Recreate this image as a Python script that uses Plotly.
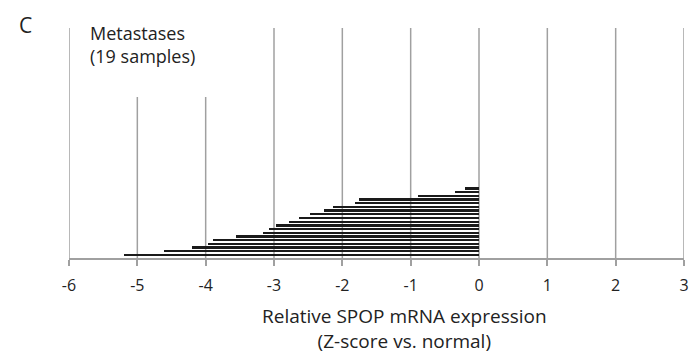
import plotly.graph_objects as go

# Data (bottom to top)
values = [-5.19, -4.61, -4.20, -3.97, -3.89, -3.55, -3.16, -3.07, -2.97, -2.78,
          -2.63, -2.48, -2.27, -2.14, -1.82, -1.75, -0.89, -0.35, -0.20]
samples = list(range(len(values)))
tick_vals = [-6, -5, -4, -3, -2, -1, 0, 1, 2, 3]
tick_text = [str(v) for v in tick_vals]
short_grid = [-5, -4]

FONT = "Open Sans, Liberation Sans, sans-serif"
GRID = "#a0a0a0"
TXT = "#222222"

fig = go.Figure()
fig.add_trace(go.Bar(
    x=values, y=samples, orientation="h",
    width=0.62,
    marker=dict(color="#1a1a1a", line=dict(width=0)),
    hoverinfo="x",
))

shapes = []
for v in tick_vals:
    y1 = 0.70 if v in short_grid else 1.0
    shapes.append(dict(type="line", xref="x", yref="paper", x0=v, x1=v, y0=0, y1=y1,
                       line=dict(color=GRID, width=1.5), layer="below"))

fig.update_layout(
    width=689, height=354,
    margin=dict(l=69, r=5, t=28, b=96),
    paper_bgcolor="white", plot_bgcolor="white",
    showlegend=False,
    font=dict(family=FONT, color=TXT),
    bargap=0,
    shapes=shapes,
    xaxis=dict(
        range=[-6, 3], tickmode="array", tickvals=tick_vals, ticktext=tick_text,
        showgrid=False, zeroline=False,
        showline=True, linecolor=GRID, linewidth=2,
        ticks="outside", ticklen=6, tickwidth=1.5, tickcolor=GRID,
        tickfont=dict(size=16, family=FONT, color=TXT),
        ticklabelstandoff=6,
        ticklabeloverflow="allow",
        automargin=False,
    ),
    yaxis=dict(range=[-0.8, 61.3], visible=False, showgrid=False, zeroline=False),
    annotations=[
        dict(text="C", xref="paper", yref="paper", x=-0.085, y=1.015,
             xanchor="left", yanchor="middle", showarrow=False,
             font=dict(size=21, family=FONT, color=TXT)),
        dict(text="Metastases<br>(19 samples)", xref="paper", yref="paper",
             x=0.031, y=1.04, xanchor="left", yanchor="top", showarrow=False, align="left",
             font=dict(size=18, family=FONT, color=TXT)),
        dict(text="Relative SPOP mRNA expression<br>(Z-score vs. normal)",
             xref="paper", yref="paper", x=0.546, y=-0.189, xanchor="center", yanchor="top",
             showarrow=False, align="center",
             font=dict(size=19, family=FONT, color=TXT)),
    ],
)

fig.write_html(
    "out.html",
    config={"displayModeBar": False},
    post_script="document.body.style.margin='0';document.body.style.overflow='hidden';",
)
